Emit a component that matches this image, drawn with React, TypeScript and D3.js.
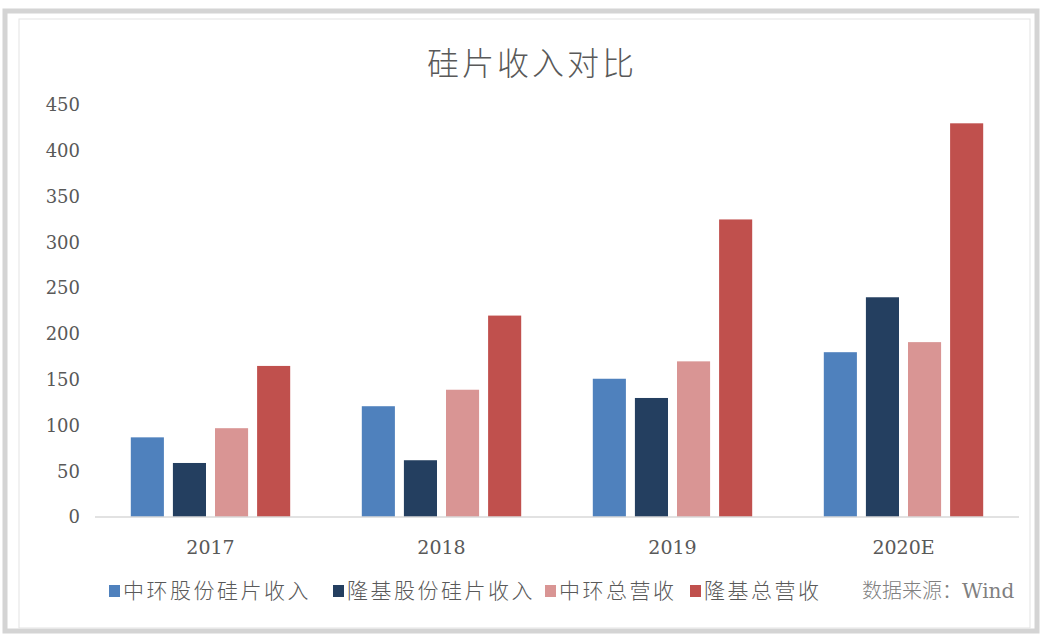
import React from 'react';
import * as d3 from 'd3';

const years = ['2017', '2018', '2019', '2020E'];
const seriesNames = ['中环股份硅片收入', '隆基股份硅片收入', '中环总营收', '隆基总营收'];
const zhonghuanWafer = [87, 121, 151, 180];
const longiWafer = [59, 62, 130, 240];
const zhonghuanTotal = [97, 139, 170, 191];
const longiTotal = [165, 220, 325, 430];
const yTicks = [0, 50, 100, 150, 200, 250, 300, 350, 400, 450];
const colors = ['#4f81bd', '#243f60', '#d99594', '#c0504d'];

const seriesValues = [zhonghuanWafer, longiWafer, zhonghuanTotal, longiTotal];

const W = 1044;
const H = 637;

const App = () => {
  const x = d3.scaleBand<string>().domain(years).range([95, 1019]).paddingInner(0.31).paddingOuter(0.155);
  const xInner = d3.scaleBand<string>().domain(seriesNames).range([0, x.bandwidth()]).paddingInner(0.214).paddingOuter(0);
  const y = d3.scaleLinear().domain([0, 450]).range([517, 105]);

  const legendX = [109, 333, 545, 690];
  const serif = '"DejaVu Serif", "Liberation Serif", serif';
  const cjk = '"Noto Sans CJK SC", sans-serif';

  return (
    <div style={{ position: 'absolute', left: 0, top: 0 }}>
      <svg width={W} height={H} style={{ display: 'block', background: '#fff' }}>
        {/* frame */}
        <rect x={5} y={11} width={1032} height={620} fill="none" stroke="#d4d4d4" strokeWidth={5} />
        <rect x={19} y={19} width={1011} height={609} fill="#fff" stroke="#e3e3e3" strokeWidth={1} />

        <text x={532} y={75} textAnchor="middle" fontFamily={cjk} fontWeight={300} fontSize={32} letterSpacing={3} fill="#595959">
          硅片收入对比
        </text>

        {yTicks.map((t) => (
          <text key={t} x={80} y={y(t)} dy="0.35em" textAnchor="end" fontFamily={serif} fontSize={18} fill="#595959">
            {t}
          </text>
        ))}

        {years.map((yr, i) => (
          <g key={yr} transform={`translate(${x(yr)},0)`}>
            {seriesNames.map((s, j) => (
              <rect
                key={s}
                x={xInner(s)}
                y={y(seriesValues[j][i])}
                width={xInner.bandwidth()}
                height={y(0) - y(seriesValues[j][i])}
                fill={colors[j]}
              />
            ))}
          </g>
        ))}

        <line x1={95} x2={1019} y1={y(0)} y2={y(0)} stroke="#d9d9d9" strokeWidth={1.5} />

        {years.map((yr) => (
          <text key={yr} x={(x(yr) ?? 0) + x.bandwidth() / 2} y={554} textAnchor="middle" fontFamily={serif} fontSize={19} fill="#595959">
            {yr}
          </text>
        ))}

        {seriesNames.map((s, j) => (
          <g key={s}>
            <rect x={legendX[j]} y={585} width={11} height={12} fill={colors[j]} />
            <text x={legendX[j] + 14} y={598} fontFamily={cjk} fontWeight={300} fontSize={21} letterSpacing={2.5} fill="#595959">
              {s}
            </text>
          </g>
        ))}
        <text x={862} y={598} fontFamily={cjk} fontWeight={300} fontSize={20} fill="#7f7f7f">
          数据来源：<tspan fontFamily={serif} fontWeight={400}>Wind</tspan>
        </text>
      </svg>
    </div>
  );
};

export default App;
